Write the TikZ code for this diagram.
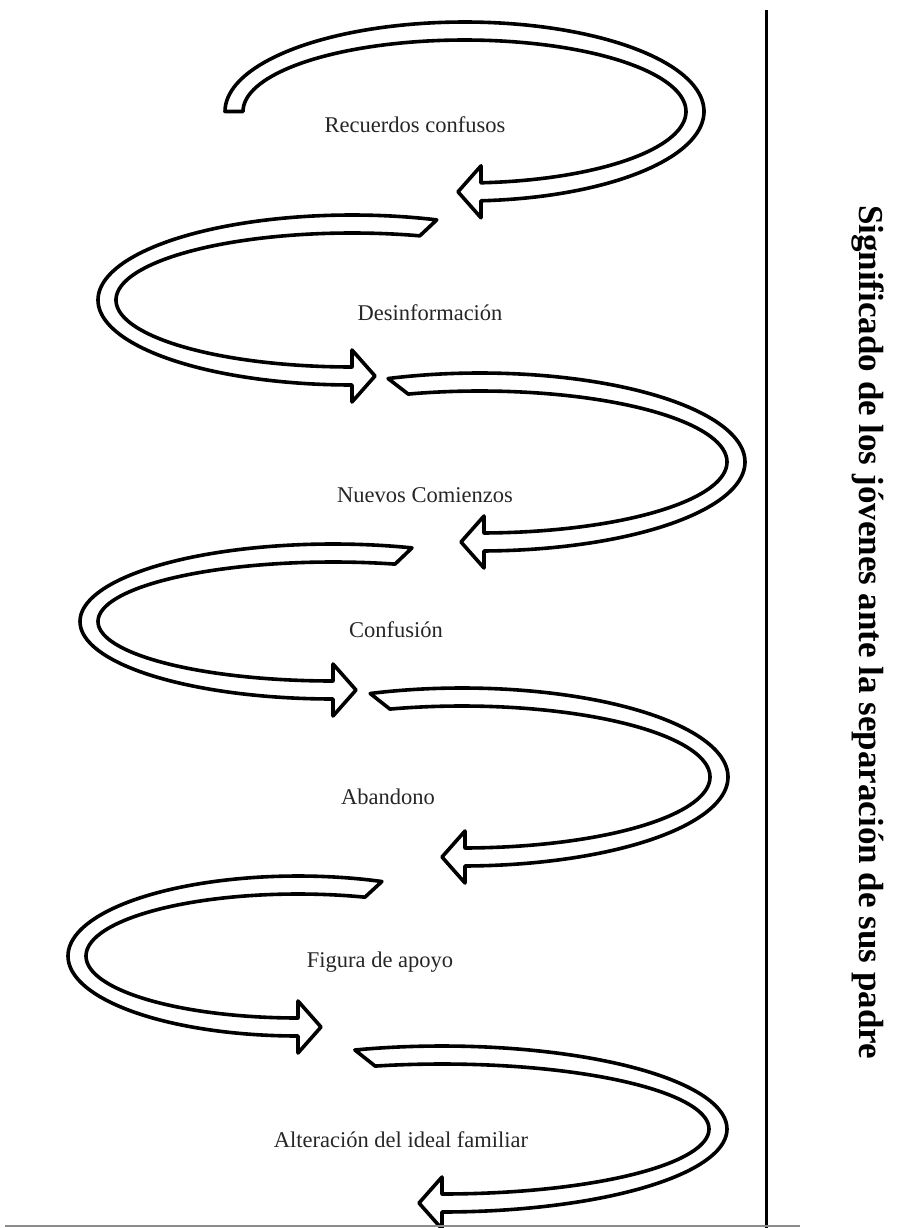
\documentclass[tikz,border=0pt]{standalone}
\usepackage{fontspec}
\setmainfont{Liberation Serif}
\tikzset{
  band/.style={draw=black, fill=white, line width=3.6pt, line join=round},
  lbl/.style={font=\fontsize{22.5}{26}\selectfont, text=black!85, inner sep=0pt},
  title/.style={font=\fontsize{35}{40}\selectfont\bfseries, text=black, inner sep=0pt, rotate=-90},
}
\def\hw{9}   % half width of band
\def\hh{26}  % half height of head
\def\hl{23}  % head length
% #1 cx, #2 cy, #3 A, #4 B, #5 outer tail angle, #6 inner tail angle, #7 head base x, #8 dir (1 = head left, -1 = head right)
\newcommand\sparrow[8]{%
  \pgfmathsetmacro\Ro{#3+\hw}%
  \pgfmathsetmacro\Ri{#3-\hw}%
  \pgfmathsetmacro\Bo{#4+\hw}%
  \pgfmathsetmacro\Bi{#4-\hw}%
  \pgfmathsetmacro\off{(#8<0)*(-360)}%
  \pgfmathsetmacro\tho{acos((#7-#1)/\Ro)+\off}%
  \pgfmathsetmacro\thi{acos((#7-#1)/\Ri)+\off}%
  \pgfmathsetmacro\yo{#2+\Bo*sin(\tho)}%
  \pgfmathsetmacro\yi{#2+\Bi*sin(\thi)}%
  \pgfmathsetmacro\yc{(\yo+\yi)/2}%
  \pgfmathsetmacro\xt{#7-#8*\hl}%
  \draw[band] plot[domain=#5:\tho,samples=120] ({#1+\Ro*cos(\x)},{#2+\Bo*sin(\x)})
    -- (#7,\yc+\hh) -- (\xt,\yc) -- (#7,\yc-\hh)
    -- plot[domain=\thi:#6,samples=120] ({#1+\Ri*cos(\x)},{#2+\Bi*sin(\x)}) -- cycle;
}
\begin{document}
\begin{tikzpicture}[x=1pt,y=-1pt]
\useasboundingbox (0,0) rectangle (899,1228);
\fill[white] (0,0) rectangle (899,1228);

% arrows
\sparrow{464.5}{111.5}{230.5}{80.5}{-180}{-180}{481}{1}
\sparrow{352}{300}{245}{76}{-70.5}{-73.3}{352}{-1}
\sparrow{480}{462}{256}{80}{-110.3}{-106.9}{484}{1}
\sparrow{333}{621.5}{244}{68.5}{-71.8}{-74.7}{333}{-1}
\sparrow{462}{777}{257}{80}{-110.2}{-106.9}{465}{1}
\sparrow{298}{956}{221}{71}{-68.6}{-71.6}{298}{-1}
\sparrow{442}{1129}{276}{74}{-107.8}{-104.5}{442}{1}

% labels
\node[lbl] (l1) at (415,125) {Recuerdos confusos};
\node[lbl] (l2) at (430,313) {Desinformación};
\node[lbl] (l3) at (425,495) {Nuevos Comienzos};
\node[lbl] (l4) at (396,630) {Confusión};
\node[lbl] (l5) at (388,797) {Abandono};
\node[lbl] (l6) at (380,962) {Figura de apoyo};
\node[lbl] (l7) at (401,1140) {Alteración del ideal familiar};

% frame lines
\coordinate (vtop) at (766,10);
\coordinate (vbot) at (766,1228);
\draw[line width=3pt] (vtop) -- (vbot);
\coordinate (hl) at (5,1226);
\coordinate (hr) at (800,1226);
\draw[line width=2pt, black!45] (hl) -- (hr);

% title
\node[title] (t) at (868,632) {Significado de los jóvenes ante la separación de sus padre};
\end{tikzpicture}
\end{document}
